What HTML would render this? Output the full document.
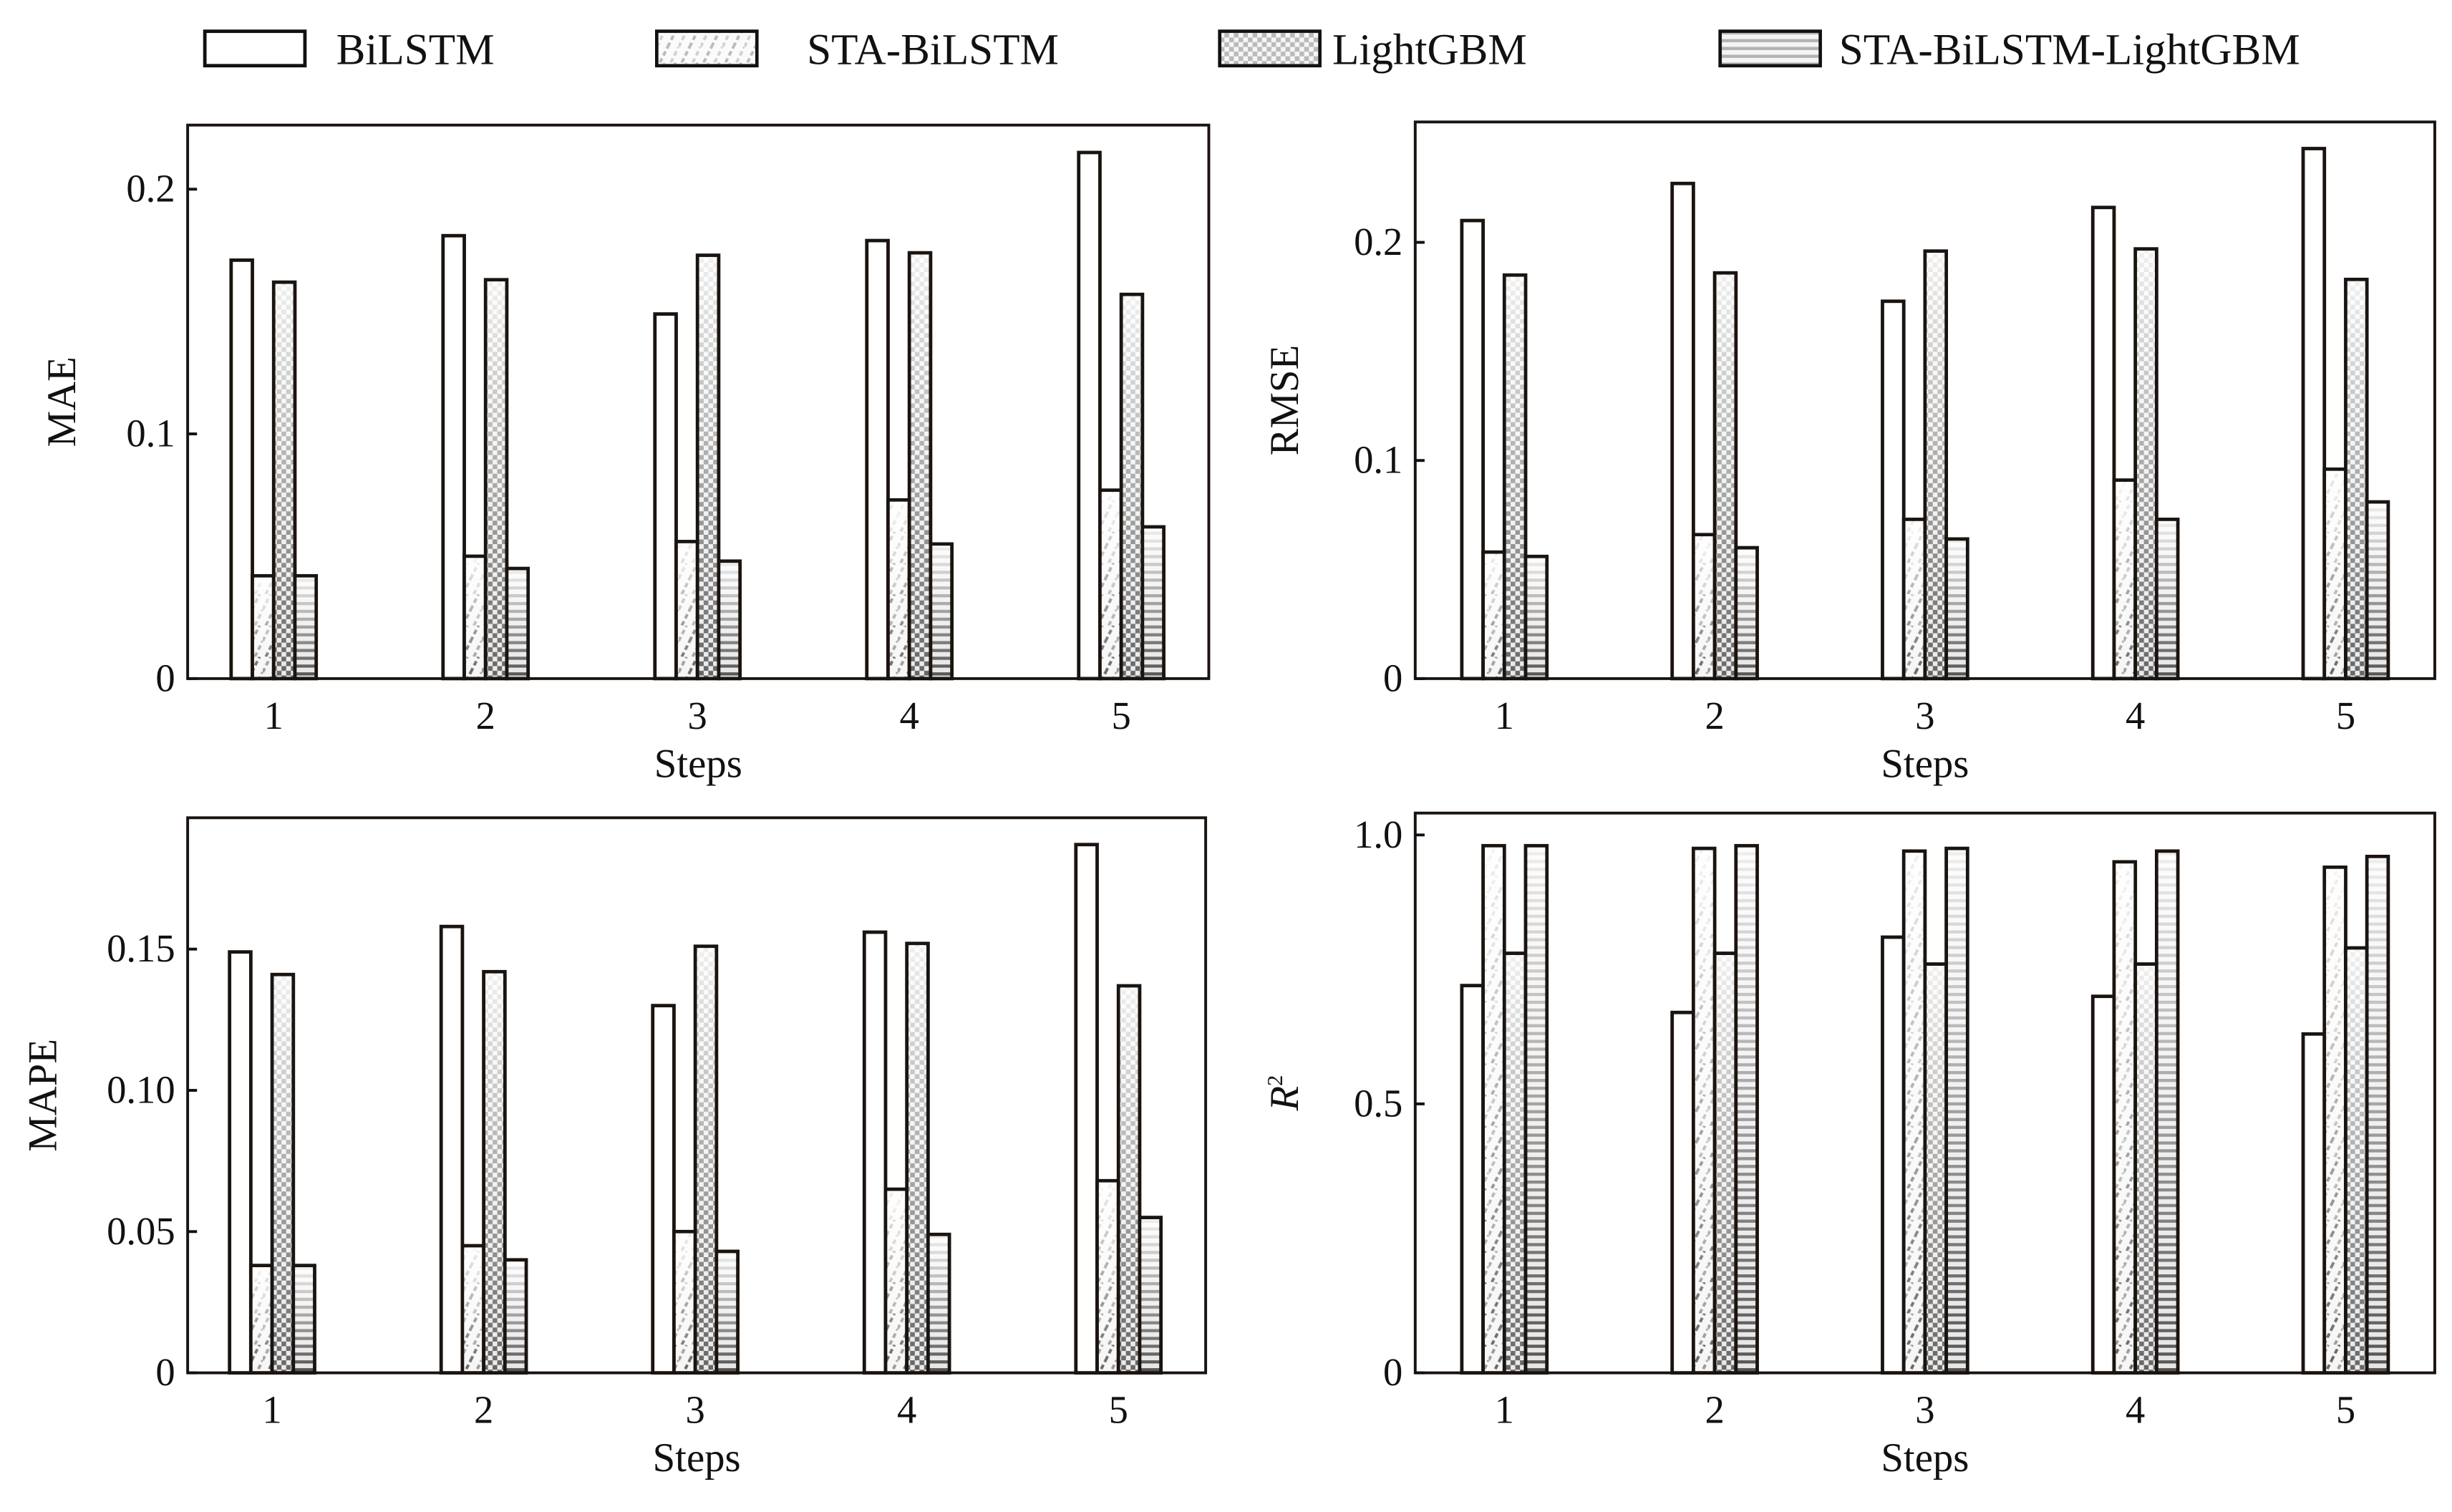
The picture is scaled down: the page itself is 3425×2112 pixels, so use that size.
<!DOCTYPE html>
<html><head><meta charset="utf-8"><style>
html,body{margin:0;padding:0;background:#fff;}
svg{display:block;}
text{font-family:"Liberation Serif",serif;fill:#111;}
</style></head><body>
<svg id="chart" width="3425" height="2112" viewBox="0 0 1568 967" preserveAspectRatio="none" xmlns="http://www.w3.org/2000/svg">
<defs>
  <linearGradient id="gv" x1="0" y1="0" x2="0" y2="1">
    <stop offset="0" stop-color="#fff" stop-opacity="0.9"/>
    <stop offset="1" stop-color="#fff" stop-opacity="0"/>
  </linearGradient>
  <pattern id="pDiag" patternUnits="userSpaceOnUse" width="14" height="20">
    <rect width="14" height="20" fill="#f6f6f6"/>
    <line x1="2" y1="20" x2="7" y2="10" stroke="#666" stroke-width="1.8" stroke-dasharray="3 2"/>
    <line x1="9" y1="20" x2="14" y2="10" stroke="#999" stroke-width="1.8" stroke-dasharray="3 2"/>
    <line x1="7" y1="10" x2="12" y2="0" stroke="#666" stroke-width="1.8" stroke-dasharray="3 2"/>
    <line x1="0" y1="10" x2="5" y2="0" stroke="#999" stroke-width="1.8" stroke-dasharray="3 2"/>
  </pattern>
  <pattern id="pCheck" patternUnits="userSpaceOnUse" width="6" height="6">
    <rect width="6" height="6" fill="#eaeaea"/>
    <rect width="3" height="3" fill="#666"/>
    <rect x="3" y="3" width="3" height="3" fill="#666"/>
  </pattern>
  <pattern id="pStripe" patternUnits="userSpaceOnUse" width="6" height="5">
    <rect width="6" height="5" fill="#e6e6e6"/>
    <rect y="0" width="6" height="2" fill="#555"/>
  </pattern>
</defs>
<g id="legend"></g>
<g id="panels"></g>
</svg>
<script>
const steps = ["1","2","3","4","5"];
const seriesNames = ["BiLSTM","STA-BiLSTM","LightGBM","STA-BiLSTM-LightGBM"];
const maeBiLSTM = [0.171,0.181,0.149,0.179,0.215];
const maeSTA = [0.042,0.050,0.056,0.073,0.077];
const maeLGB = [0.162,0.163,0.173,0.174,0.157];
const maeSTALGB = [0.042,0.045,0.048,0.055,0.062];
const rmseBiLSTM = [0.210,0.227,0.173,0.216,0.243];
const rmseSTA = [0.058,0.066,0.073,0.091,0.096];
const rmseLGB = [0.185,0.186,0.196,0.197,0.183];
const rmseSTALGB = [0.056,0.060,0.064,0.073,0.081];
const mapeBiLSTM = [0.149,0.158,0.130,0.156,0.187];
const mapeSTA = [0.038,0.045,0.050,0.065,0.068];
const mapeLGB = [0.141,0.142,0.151,0.152,0.137];
const mapeSTALGB = [0.038,0.040,0.043,0.049,0.055];
const r2BiLSTM = [0.72,0.67,0.81,0.70,0.63];
const r2STA = [0.98,0.975,0.97,0.95,0.94];
const r2LGB = [0.78,0.78,0.76,0.76,0.79];
const r2STALGB = [0.98,0.98,0.975,0.97,0.96];
const maeTicks = ["0","0.1","0.2"];
const rmseTicks = ["0","0.1","0.2"];
const mapeTicks = ["0","0.05","0.10","0.15"];
const r2Ticks = ["0","0.5","1.0"];

const NS="http://www.w3.org/2000/svg";
function el(tag,attrs,parent){const e=document.createElementNS(NS,tag);for(const k in attrs)e.setAttribute(k,attrs[k]);parent.appendChild(e);return e;}
const fills=["#fff","url(#pDiag)","url(#pCheck)","url(#pStripe)"];

const lg=document.getElementById('legend');
const legX=[131,420,780,1100], legT=[215,516,852,1176];
seriesNames.forEach((n,i)=>{
  const r=el('rect',{x:legX[i],y:20,width:64,height:22,fill:fills[i],stroke:"#111","stroke-width":2.2},lg);
  
  
  if(i>0){el('rect',{x:legX[i]+1,y:21,width:62,height:20,fill:"#fff","fill-opacity":0.55},lg);}
  const t=el('text',{x:legT[i],y:41,"font-size":28},lg);
  t.textContent=n;
  
  
});

const panels=[
 {name:"mae",x0:120,x1:773,y0:80,y1:434,ymax:0.2,yAt:121,ticks:maeTicks,tickVals:[0,0.1,0.2],label:"MAE",data:[maeBiLSTM,maeSTA,maeLGB,maeSTALGB],c1:175,sp:135.5,lblX:48},
 {name:"rmse",x0:905,x1:1557,y0:78,y1:434,ymax:0.2,yAt:155,ticks:rmseTicks,tickVals:[0,0.1,0.2],label:"RMSE",data:[rmseBiLSTM,rmseSTA,rmseLGB,rmseSTALGB],c1:962,sp:134.5,lblX:830},
 {name:"mape",x0:120,x1:771,y0:523,y1:878,ymax:0.15,yAt:607,ticks:mapeTicks,tickVals:[0,0.05,0.10,0.15],label:"MAPE",data:[mapeBiLSTM,mapeSTA,mapeLGB,mapeSTALGB],c1:174,sp:135.3,lblX:36},
 {name:"r2",x0:905,x1:1557,y0:520,y1:878,ymax:1.0,yAt:534,ticks:r2Ticks,tickVals:[0,0.5,1.0],label:"R2",data:[r2BiLSTM,r2STA,r2LGB,r2STALGB],c1:962,sp:134.5,lblX:830}
];
const pg=document.getElementById('panels');
panels.forEach(p=>{
  const g=el('g',{},pg);
  
  
  const yS=v=>p.y1-(v/p.ymax)*(p.y1-p.yAt);
  const xS=i=>p.c1+i*p.sp;
  const bw=13.6;
  p.data.forEach((ser,si)=>{
    ser.forEach((v,i)=>{
      const x=xS(i)-2*bw+si*bw, y=yS(v);
      const b=el('rect',{x:x,y:y,width:bw,height:p.y1-y,fill:fills[si],stroke:"#1a1410","stroke-width":2.2},g);
      
      
      if(si>0) el('rect',{x:x+1.1,y:y+1.1,width:bw-2.2,height:Math.max(0,p.y1-y-2.2),fill:"url(#gv)"},g);
    });
  });
  const fr=el('rect',{x:p.x0,y:p.y0,width:p.x1-p.x0,height:p.y1-p.y0,fill:"none",stroke:"#1a1410","stroke-width":1.8},g);
  
  
  p.tickVals.forEach((tv,i)=>{
    const y=yS(tv);
    el('line',{x1:p.x0,y1:y,x2:p.x0+6,y2:y,stroke:"#111","stroke-width":1.8},g);
    const t=el('text',{x:p.x0-8,y:y+8,"font-size":25,"text-anchor":"end"},g);
    t.textContent=p.ticks[i];
    
    
  });
  steps.forEach((s,i)=>{
    const t=el('text',{x:xS(i),y:p.y1+32,"font-size":25,"text-anchor":"middle"},g);
    t.textContent=s;
    
    
  });
  const xt=el('text',{x:(p.x0+p.x1)/2,y:p.y1+63,"font-size":26,"text-anchor":"middle"},g);
  xt.textContent="Steps";
  
  
  const cy=(p.y0+p.y1)/2;
  const yt=el('text',{x:p.lblX,y:cy,"font-size":26,"text-anchor":"middle",transform:`rotate(-90 ${p.lblX} ${cy})`},g);
  if(p.label==="R2"){
    const a=el('tspan',{"font-style":"italic"},yt);a.textContent="R";
    const b=el('tspan',{"font-size":14,dy:-10},yt);b.textContent="2";
  } else yt.textContent=p.label;
  
  
});
</script>
</body></html>
